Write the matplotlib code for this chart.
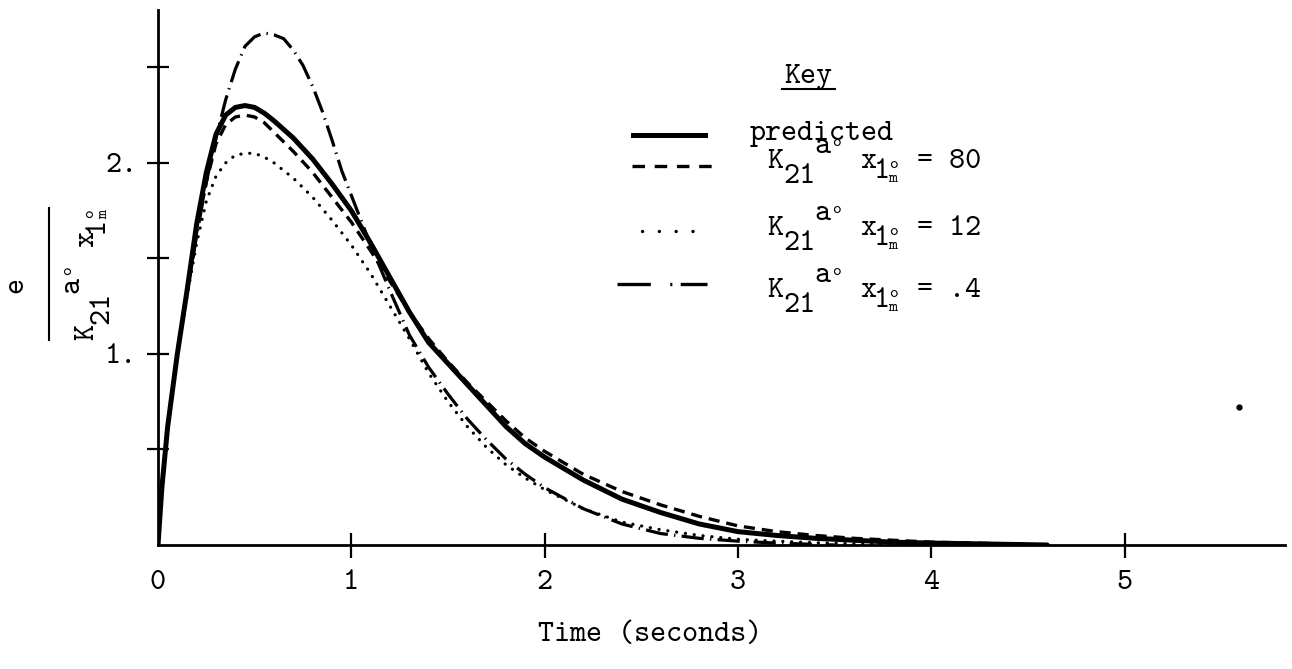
import matplotlib
matplotlib.use("Agg")
import numpy as np
import matplotlib.pyplot as plt
from matplotlib.lines import Line2D
from matplotlib.markers import TICKDOWN

# === FONT SETUP ===
# typewriter look, everything in cmtt10
plt.rcParams['font.family'] = 'cmtt10'
plt.rcParams['axes.unicode_minus'] = False
plt.rcParams['lines.scale_dashes'] = False

# === DATA ===
t_pred = [0, 0.02, 0.05, 0.10, 0.15, 0.20, 0.25, 0.30, 0.35, 0.40, 0.45, 0.50,
          0.55, 0.60, 0.70, 0.80, 0.90, 1.00, 1.10, 1.20, 1.30, 1.40, 1.50, 1.60,
          1.70, 1.80, 1.90, 2.00, 2.20, 2.40, 2.60, 2.80, 3.00, 3.20, 3.40, 3.60,
          3.80, 4.00, 4.30, 4.60]
e_pred = [0, 0.30, 0.62, 1.00, 1.33, 1.68, 1.95, 2.15, 2.25, 2.29, 2.30, 2.29,
          2.26, 2.22, 2.13, 2.02, 1.89, 1.75, 1.58, 1.40, 1.22, 1.06, 0.95, 0.84,
          0.73, 0.62, 0.53, 0.46, 0.34, 0.24, 0.17, 0.11, 0.07, 0.05, 0.035, 0.025,
          0.015, 0.01, 0.005, 0]

t_80 = [0, 0.02, 0.05, 0.10, 0.15, 0.20, 0.25, 0.30, 0.35, 0.40, 0.45, 0.50,
        0.55, 0.60, 0.70, 0.80, 0.90, 1.00, 1.10, 1.20, 1.30, 1.40, 1.50, 1.60,
        1.70, 1.80, 1.90, 2.00, 2.20, 2.40, 2.60, 2.80, 3.00, 3.20, 3.40, 3.60,
        3.80, 4.00, 4.30, 4.60]
e_80 = [0, 0.30, 0.62, 1.00, 1.32, 1.64, 1.90, 2.10, 2.20, 2.24, 2.25, 2.24,
        2.21, 2.16, 2.06, 1.95, 1.82, 1.69, 1.54, 1.38, 1.22, 1.08, 0.96, 0.85,
        0.75, 0.65, 0.56, 0.49, 0.37, 0.28, 0.21, 0.15, 0.10, 0.07, 0.05, 0.035,
        0.025, 0.015, 0.008, 0]

t_12 = [0, 0.02, 0.05, 0.10, 0.15, 0.20, 0.25, 0.30, 0.35, 0.40, 0.45, 0.50,
        0.55, 0.60, 0.70, 0.80, 0.90, 1.00, 1.10, 1.20, 1.30, 1.40, 1.50, 1.60,
        1.70, 1.80, 1.90, 2.00, 2.20, 2.40, 2.60, 2.80, 3.00, 3.20, 3.40, 3.60,
        3.80, 4.00]
e_12 = [0, 0.30, 0.62, 1.00, 1.30, 1.58, 1.80, 1.93, 2.00, 2.04, 2.05, 2.05,
        2.03, 2.00, 1.92, 1.82, 1.70, 1.57, 1.42, 1.25, 1.08, 0.90, 0.75, 0.62,
        0.51, 0.42, 0.35, 0.29, 0.19, 0.12, 0.08, 0.05, 0.03, 0.02, 0.012, 0.007,
        0.003, 0]

t_04 = [0, 0.02, 0.05, 0.10, 0.15, 0.20, 0.25, 0.30, 0.35, 0.40, 0.45, 0.50,
        0.55, 0.60, 0.65, 0.70, 0.75, 0.80, 0.85, 0.90, 0.95, 1.00, 1.10, 1.20,
        1.30, 1.40, 1.50, 1.60, 1.70, 1.80, 1.90, 2.00, 2.20, 2.40, 2.60, 2.80,
        3.00, 3.20, 3.50]
e_04 = [0, 0.30, 0.62, 1.00, 1.32, 1.62, 1.90, 2.13, 2.33, 2.49, 2.61, 2.66,
        2.68, 2.67, 2.65, 2.59, 2.51, 2.40, 2.27, 2.12, 1.96, 1.83, 1.57, 1.33,
        1.10, 0.93, 0.79, 0.66, 0.55, 0.45, 0.37, 0.30, 0.19, 0.11, 0.06, 0.035,
        0.02, 0.01, 0]

# stray speck on the scan
speck_t = [5.59]
speck_e = [0.72]

x_ticks = [0, 1, 2, 3, 4, 5]
x_labels = ['0', '1', '2', '3', '4', '5']
y_ticks = [0.5, 1.0, 1.5, 2.0, 2.5]
y_labels = ['', '1.', '', '2.', '']

key_values = ['80', '12', '.4']

FS = 22
FS_SMALL = 12

# === FIGURE ===
W, H = 1292, 669
fig = plt.figure(figsize=(W / 100, H / 100), dpi=100)
fig.patch.set_facecolor('white')

def fx(px):
    return px / W

def fy(py):
    return 1 - py / H

ax = fig.add_axes([fx(158), fy(545), (1285 - 158) / W, (545 - 10) / H])
ax.set_xlim(0, 5.83)
ax.set_ylim(0, 2.80)

ax.plot(t_pred, e_pred, color='black', lw=3.6, solid_capstyle='round',
        solid_joinstyle='round')
ax.plot(t_80, e_80, color='black', lw=2.4, linestyle=(0, (8, 5)))
ax.plot(t_12, e_12, color='black', lw=2.3, linestyle=(0, (0.1, 6.3)),
        dash_capstyle='round')
ax.plot(t_04, e_04, color='black', lw=2.3, linestyle=(0, (16, 4.5, 1, 4.5)))
ax.plot(speck_t, speck_e, 'o', color='black', ms=3.5, clip_on=False)

for side in ['top', 'right']:
    ax.spines[side].set_visible(False)
for side in ['left', 'bottom']:
    ax.spines[side].set_linewidth(2.0)

ax.set_xticks(x_ticks)
ax.set_xticklabels(x_labels)
ax.set_yticks(y_ticks)
ax.set_yticklabels(y_labels)
ax.tick_params(axis='x', direction='inout', length=18, width=1.6, pad=9,
               labelsize=FS)
ax.tick_params(axis='y', direction='inout', length=16, width=1.6, pad=7,
               labelsize=FS)
xt = ax.xaxis.get_major_ticks()
xt[0].tick1line.set_visible(False)
# ticks at 3 and 4 only hang below the axis on the original
for i in (3, 4):
    xt[i].tick1line.set_marker(TICKDOWN)
    xt[i].tick1line.set_markersize(9)

# === TYPED LABEL  K21 a° x1°m ===
# pieces: (along-text px, up px, text, size), typewriter half-line shifts
kx_pieces = [
    (0, 0, 'K', FS),
    (16, -15, '21', FS),
    (47, 15, 'a', FS),
    (65, 22, 'o', FS_SMALL),
    (93, 0, 'x', FS),
    (107, -10, '1', FS),
    (122, 0, 'o', FS_SMALL),
    (121, -14, 'm', FS_SMALL),
]

def typed_label(x0, y0, rot=0):
    # x0, y0: left end of the baseline, image pixels (y down)
    a = np.radians(rot)
    ux, uy = np.cos(a), -np.sin(a)
    vx, vy = -np.sin(a), -np.cos(a)
    for dx, dy, s, size in kx_pieces:
        px = x0 + dx * ux + dy * vx
        py = y0 + dx * uy + dy * vy
        fig.text(fx(px), fy(py), s, fontsize=size, rotation=rot,
                 rotation_mode='anchor', ha='left', va='baseline')

# === AXIS LABELS ===
fig.text(fx(650), fy(635), 'Time (seconds)', ha='center', va='center',
         fontsize=FS)

fig.text(fx(16), fy(285), 'e', rotation=90, ha='center', va='center',
         fontsize=FS)
fig.add_artist(Line2D([fx(49), fx(49)], [fy(208), fy(340)],
                      transform=fig.transFigure, color='black', lw=1.5))
typed_label(93, 340, rot=90)

# === KEY ===
fig.text(fx(808), fy(83), 'Key', ha='center', va='baseline', fontsize=FS)
fig.add_artist(Line2D([fx(782), fx(835)], [fy(89), fy(89)],
                      transform=fig.transFigure, color='black', lw=1.5))

fig.add_artist(Line2D([fx(633), fx(705)], [fy(135), fy(135)],
                      transform=fig.transFigure, color='black', lw=3.6))
fig.add_artist(Line2D([fx(632), fx(713)], [fy(166), fy(166)],
                      transform=fig.transFigure, color='black', lw=2.4,
                      linestyle=(0, (9, 7))))
fig.add_artist(Line2D([fx(642), fx(700)], [fy(231), fy(231)],
                      transform=fig.transFigure, color='black', lw=2.4,
                      linestyle=(0, (0.1, 12)), dash_capstyle='round'))
fig.add_artist(Line2D([fx(617), fx(707)], [fy(284), fy(284)],
                      transform=fig.transFigure, color='black', lw=2.4,
                      linestyle=(0, (24, 14, 1.5, 6))))

fig.text(fx(750), fy(140), 'predicted', va='baseline', fontsize=FS)
row_y = [168, 235, 297]
for yy, val in zip(row_y, key_values):
    typed_label(767, yy)
    fig.text(fx(917), fy(yy), '= ' + val, va='baseline', fontsize=FS)

fig.savefig('out.png', dpi=100, facecolor='white')
